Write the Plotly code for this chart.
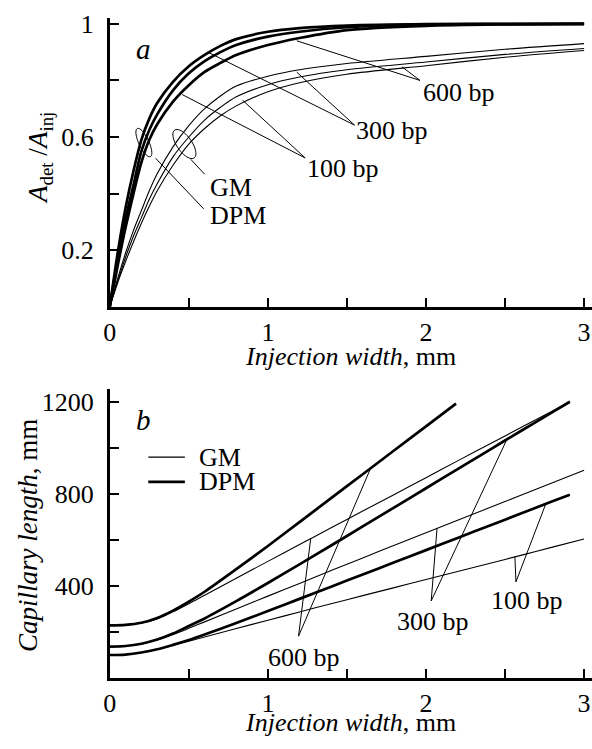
import numpy as np
import plotly.graph_objects as go

FONT = "Liberation Serif, Times New Roman, serif"

# ---------------- Panel a data: A_det/A_inj vs injection width ----------------
xa = [0, 0.05, 0.1, 0.15, 0.2, 0.25, 0.3, 0.4, 0.5, 0.6, 0.7, 0.8, 1.0, 1.2, 1.5, 2.0, 2.5, 3.0]
dpm_a_1 = [0, 0.19, 0.35, 0.48, 0.59, 0.665, 0.72, 0.795, 0.85, 0.89, 0.922, 0.946, 0.972, 0.985, 0.994, 0.999, 1.0, 1.0]
dpm_a_2 = [0, 0.165, 0.31, 0.43, 0.55, 0.625, 0.68, 0.765, 0.825, 0.868, 0.90, 0.925, 0.955, 0.972, 0.988, 0.997, 0.999, 1.0]
dpm_a_3 = [0, 0.145, 0.28, 0.40, 0.51, 0.59, 0.645, 0.725, 0.783, 0.83, 0.862, 0.89, 0.925, 0.95, 0.978, 0.993, 0.998, 1.0]
gm_a_1 = [0, 0.10, 0.19, 0.27, 0.34, 0.41, 0.47, 0.565, 0.64, 0.70, 0.745, 0.78, 0.815, 0.838, 0.86, 0.885, 0.91, 0.93]
gm_a_2 = [0, 0.09, 0.175, 0.25, 0.315, 0.38, 0.435, 0.53, 0.60, 0.66, 0.705, 0.742, 0.785, 0.812, 0.838, 0.865, 0.892, 0.913]
gm_a_3 = [0, 0.085, 0.16, 0.23, 0.295, 0.355, 0.41, 0.50, 0.575, 0.63, 0.675, 0.71, 0.76, 0.792, 0.822, 0.852, 0.882, 0.906]

# ---------------- Panel b data: capillary length vs injection width ----------------
xb_dpm600 = [0, 0.1, 0.2, 0.3, 0.4, 0.5, 0.6, 0.8, 1.0, 1.2, 1.4, 1.6, 1.8, 2.0, 2.19]
dpm600 = [228, 230, 239, 260, 292, 331, 374, 472, 573, 677, 781, 885, 989, 1093, 1192]
xb_gm600 = [0, 0.1, 0.2, 0.3, 0.4, 0.5, 0.6, 0.8, 1.0, 1.2, 1.4, 1.6, 1.8, 2.0, 2.2, 2.4, 2.6, 2.8, 2.91]
gm600 = [228, 230, 238, 256, 287, 322, 359, 433, 506, 579, 652, 725, 797, 870, 943, 1015, 1088, 1160, 1200]
xb_dpm300 = [0, 0.1, 0.2, 0.3, 0.4, 0.5, 0.6, 0.8, 1.0, 1.2, 1.4, 1.6, 1.8, 2.0, 2.2, 2.4, 2.6, 2.8, 2.91]
dpm300 = [135, 138, 148, 166, 192, 225, 258, 333, 412, 493, 575, 658, 741, 824, 907, 990, 1073, 1155, 1200]
xb_gm300 = [0, 0.1, 0.2, 0.3, 0.4, 0.5, 0.6, 0.8, 1.0, 1.2, 1.4, 1.6, 1.8, 2.0, 2.2, 2.4, 2.6, 2.8, 3.0]
gm300 = [135, 138, 147, 164, 188, 215, 243, 299, 355, 410, 466, 521, 576, 631, 685, 739, 794, 848, 902]
xb_dpm100 = [0, 0.1, 0.2, 0.3, 0.4, 0.5, 0.6, 0.8, 1.0, 1.2, 1.4, 1.6, 1.8, 2.0, 2.2, 2.4, 2.6, 2.8, 2.91]
dpm100 = [99, 101, 110, 124, 143, 164, 188, 238, 290, 343, 396, 449, 502, 555, 608, 661, 714, 767, 796]
xb_gm100 = [0, 0.1, 0.2, 0.3, 0.4, 0.5, 0.6, 0.8, 1.0, 1.2, 1.4, 1.6, 1.8, 2.0, 2.2, 2.4, 2.6, 2.8, 3.0]
gm100 = [99, 101, 110, 123, 141, 159, 177, 214, 250, 286, 322, 357, 392, 427, 462, 497, 532, 568, 603]

x_ticks = [0, 0.5, 1, 1.5, 2, 2.5, 3]
x_ticktext = ["0", "", "1", "", "2", "", "3"]
ya_ticks = [0.2, 0.4, 0.6, 0.8, 1.0]
ya_ticktext = ["0.2", "", "0.6", "", "1"]
yb_ticks = [200, 400, 600, 800, 1000, 1200]
yb_ticktext = ["", "400", "", "800", "", "1200"]

W, H = 592, 749
THICK, THIN = 2.7, 1.1
FS = 26

fig = go.Figure()

def add_curve(x, y, width, xa_="x", ya_="y"):
    fig.add_trace(go.Scatter(x=x, y=y, mode="lines", xaxis=xa_, yaxis=ya_,
                             line=dict(color="black", width=width, shape="spline", smoothing=0.8),
                             showlegend=False, hoverinfo="skip"))

for ys in (gm_a_1, gm_a_2, gm_a_3):
    add_curve(xa, ys, THIN)
for ys in (dpm_a_1, dpm_a_2, dpm_a_3):
    add_curve(xa, ys, THICK)

add_curve(xb_gm600, gm600, THIN, "x2", "y2")
add_curve(xb_gm300, gm300, THIN, "x2", "y2")
add_curve(xb_gm100, gm100, THIN, "x2", "y2")
add_curve(xb_dpm600, dpm600, THICK, "x2", "y2")
add_curve(xb_dpm300, dpm300, THICK, "x2", "y2")
add_curve(xb_dpm100, dpm100, THICK, "x2", "y2")

axis_common = dict(showline=True, linecolor="black", linewidth=2.5, ticks="inside",
                   ticklen=9, tickwidth=1.5, tickcolor="black", showgrid=False,
                   zeroline=False, tickfont=dict(family=FONT, size=FS, color="black"),
                   fixedrange=True)

xdom = [104 / W, 1.0]
ya_dom = [1 - 302 / H, 1 - 10 / H]
yb_dom = [1 - 677 / H, 1 - 385 / H]

fig.update_layout(
    width=W, height=H, margin=dict(l=0, r=0, t=0, b=0), autosize=False,
    paper_bgcolor="white", plot_bgcolor="white", showlegend=False,
    font=dict(family=FONT, color="black"),
    xaxis=dict(domain=xdom, range=[0, 3.05], tickvals=x_ticks, ticktext=x_ticktext,
               anchor="y", ticklabelstandoff=0, **axis_common),
    yaxis=dict(domain=ya_dom, range=[0, 1.021], tickvals=ya_ticks, ticktext=ya_ticktext,
               anchor="x", ticklabelstandoff=8, **axis_common),
    xaxis2=dict(domain=xdom, range=[0, 3.05], tickvals=x_ticks, ticktext=x_ticktext,
                anchor="y2", ticklabelstandoff=0, **axis_common),
    yaxis2=dict(domain=yb_dom, range=[0, 1256], tickvals=yb_ticks, ticktext=yb_ticktext,
                anchor="x2", ticklabelstandoff=8, **axis_common),
)

shapes = []
def seg(x0, y0, x1, y1, xr="x", yr="y", w=1.0):
    shapes.append(dict(type="line", xref=xr, yref=yr, x0=x0, y0=y0, x1=x1, y1=y1,
                       line=dict(color="black", width=w)))

# panel a pointers (label vertex -> curves)
for (vx, vy), targets in [((1.962, 0.80), [(1.183, 0.94), (1.848, 0.848)]),
                          ((1.548, 0.642), [(0.62, 0.90), (1.183, 0.829)]),
                          ((1.236, 0.526), [(0.458, 0.75), (0.84, 0.73)])]:
    for tx, ty in targets:
        seg(vx, vy, tx, ty)
# ellipse leaders
seg(0.29, 0.525, 0.594, 0.346)
seg(0.5125, 0.521, 0.60, 0.4685)

def ellipse_path(a, b, deg):
    th = np.deg2rad(deg)
    t = np.linspace(0, 2 * np.pi, 48)
    X = a * np.cos(t) * np.cos(th) - b * np.sin(t) * np.sin(th)
    Y = a * np.cos(t) * np.sin(th) + b * np.sin(t) * np.cos(th)
    return "M " + " L ".join(f"{x:.2f},{y:.2f}" for x, y in zip(X, Y)) + " Z"

for (cx, cy, a, b, deg) in [(0.2156, 0.5804, 15.5, 5.0, -65), (0.4719, 0.5752, 17, 7.5, -55)]:
    shapes.append(dict(type="path", xref="x", yref="y", xsizemode="pixel", ysizemode="pixel",
                       xanchor=cx, yanchor=cy, path=ellipse_path(a, b, deg),
                       line=dict(color="black", width=1.0)))

# panel b pointers
for (vx, vy), targets in [((1.194, 181), [(1.271, 606), (1.65, 911)]),
                          ((2.033, 334), [(2.07, 650), (2.506, 1028)]),
                          ((2.569, 417), [(2.5625, 526), (2.756, 753)])]:
    for tx, ty in targets:
        seg(vx, vy, tx, ty, "x2", "y2")

# panel b legend lines
seg(143 / W, 1 - 454 / H, 180 / W, 1 - 454 / H, "paper", "paper", THIN)
seg(143 / W, 1 - 479 / H, 180 / W, 1 - 479 / H, "paper", "paper", THICK)

fig.update_layout(shapes=shapes)

ann = []
def text(x, y, s, xr="x", yr="y", size=FS, xanchor="center", angle=0):
    ann.append(dict(x=x, y=y, xref=xr, yref=yr, text=s, showarrow=False, textangle=angle,
                    xanchor=xanchor, yanchor="middle",
                    font=dict(family=FONT, size=size, color="black")))

text(2.209, 0.759, "600 bp")
text(1.7875, 0.622, "300 bp")
text(1.475, 0.4895, "100 bp")
text(0.619, 0.423, "GM", xanchor="left")
text(0.619, 0.322, "DPM", xanchor="left")
text(138 / W, 1 - 41 / H, "<i>a</i>", "paper", "paper", size=29)

text(1.231, 86, "600 bp", "x2", "y2")
text(2.044, 245, "300 bp", "x2", "y2")
text(2.6375, 335, "100 bp", "x2", "y2")
text(192 / W, 1 - 454 / H, "GM", "paper", "paper", xanchor="left")
text(192 / W, 1 - 479 / H, "DPM", "paper", "paper", xanchor="left")
text(138 / W, 1 - 416 / H, "<i>b</i>", "paper", "paper", size=29)

# axis titles
text(348 / W, 1 - 352 / H, "<i>Injection width</i>, mm", "paper", "paper", size=26)
text(348 / W, 1 - 722 / H, "<i>Injection width</i>, mm", "paper", "paper", size=26)
text(34 / W, 1 - 152 / H, "<i>A</i><sub>det</sub> /<i>A</i><sub>inj</sub>", "paper", "paper", size=27, angle=-90)
text(22 / W, 1 - 533 / H, "<i>Capillary length</i>, mm", "paper", "paper", size=27, angle=-90)

fig.update_layout(annotations=ann)
fig.write_html("out.html")
